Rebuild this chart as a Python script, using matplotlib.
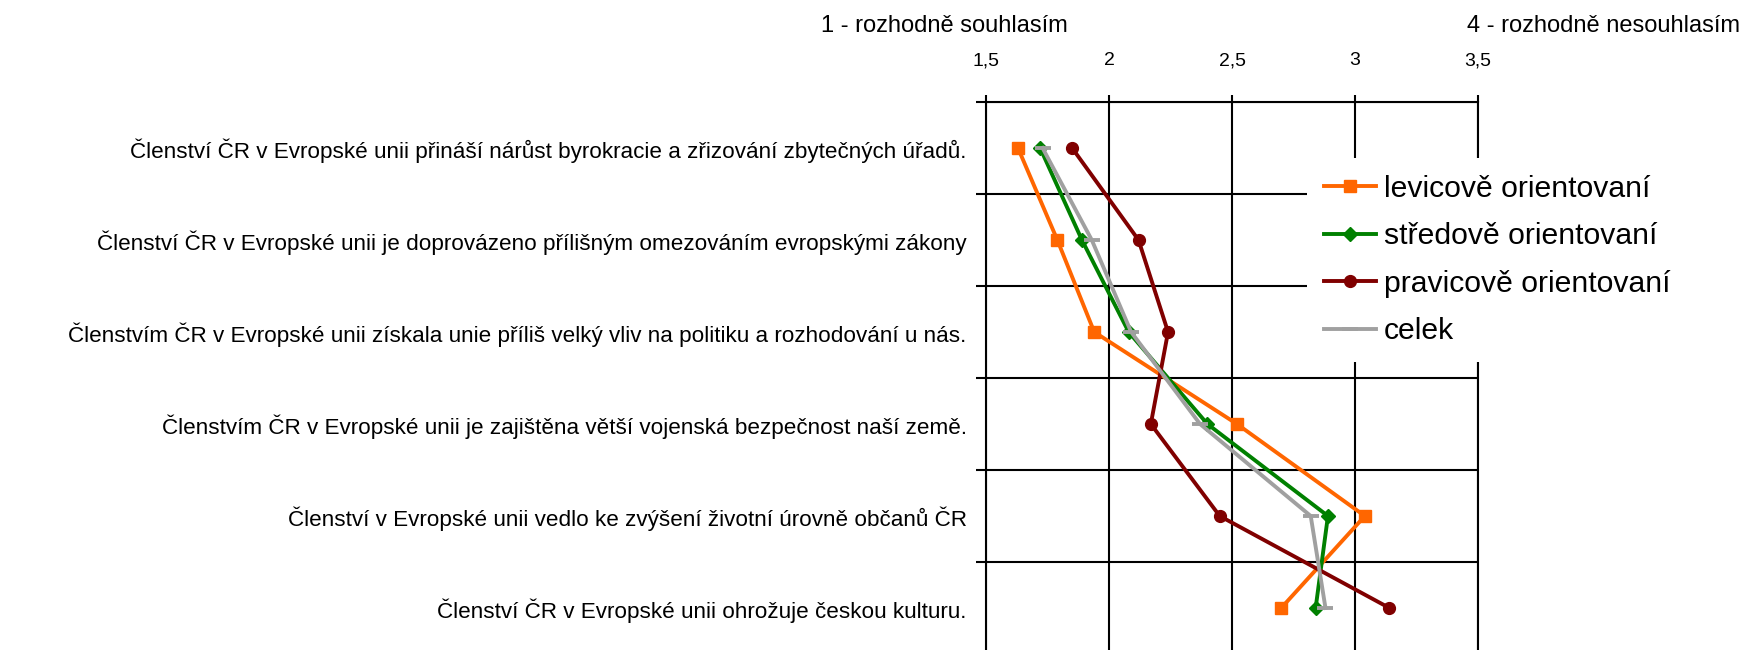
#Imports

import numpy as np
from matplotlib import pyplot as plt

plt.rcParams['font.family'] = ['Liberation Sans', 'DejaVu Sans']

# Data (mean agreement, 1 = strongly agree, 4 = strongly disagree)

statements = [
    'Členství ČR v Evropské unii přináší nárůst byrokracie a zřizování zbytečných úřadů.',
    'Členství ČR v Evropské unii je doprovázeno přílišným omezováním evropskými zákony',
    'Členstvím ČR v Evropské unii získala unie příliš velký vliv na politiku a rozhodování u nás.',
    'Členstvím ČR v Evropské unii je zajištěna větší vojenská bezpečnost naší země.',
    'Členství v Evropské unii vedlo ke zvýšení životní úrovně občanů ČR',
    'Členství ČR v Evropské unii ohrožuje českou kulturu.',
]

levicove = [1.63, 1.79, 1.94, 2.52, 3.04, 2.70]
stredove = [1.72, 1.89, 2.08, 2.40, 2.89, 2.84]
pravicove = [1.85, 2.12, 2.24, 2.17, 2.45, 3.14]
celek = [1.73, 1.93, 2.09, 2.37, 2.82, 2.88]

series_names = ['levicově orientovaní', 'středově orientovaní', 'pravicově orientovaní', 'celek']

x_ticks = [1.5, 2, 2.5, 3, 3.5]
x_tick_labels = ['1,5', '2', '2,5', '3', '3,5']


def agreement_chart():
    W, H = 1745, 650
    fig = plt.figure(figsize=(W / 100, H / 100), dpi=100)
    ax = fig.add_axes([986 / W, 1 - 654 / H, (1478 - 986) / W, (654 - 102) / H])

    y = np.arange(len(statements))

    ax.plot(levicove, y, color='#FF6600', lw=2.8, marker='s', ms=8.5, label=series_names[0], zorder=3)
    ax.plot(stredove, y, color='#008000', lw=2.8, marker='D', ms=7, label=series_names[1], zorder=3)
    ax.plot(pravicove, y, color='#800000', lw=2.8, marker='o', ms=8.5, label=series_names[2], zorder=3)
    ax.plot(celek, y, color='#A0A0A0', lw=2.8, marker='_', ms=11, mew=2.8, label=series_names[3], zorder=3)

    ax.set_xlim(1.5, 3.5)
    ax.set_ylim(len(statements) - 0.5, -0.5)

    # x axis on top
    ax.xaxis.tick_top()
    ax.set_xticks(x_ticks)
    ax.set_xticklabels(x_tick_labels)
    ax.tick_params(axis='x', which='major', direction='out', length=5, width=1.5,
                   labelsize=14, pad=18.5, color='black')

    # category boundaries as minor ticks + gridlines
    ax.set_yticks(y)
    ax.set_yticklabels(statements)
    ax.set_yticks(np.arange(len(statements) + 1) - 0.5, minor=True)
    ax.tick_params(axis='y', which='major', length=0, labelsize=16.2, pad=14)
    ax.tick_params(axis='y', which='minor', direction='out', length=7, width=1.5, color='black')

    ax.grid(True, axis='x', which='major', color='black', lw=1.5, zorder=1)
    ax.grid(True, axis='y', which='minor', color='black', lw=1.5, zorder=1)
    ax.set_axisbelow(True)

    for s in ['left', 'top', 'right']:
        ax.spines[s].set_linewidth(1.5)
        ax.spines[s].set_color('black')
    ax.spines['bottom'].set_visible(False)

    fig.text(821 / W, 1 - 32 / H, '1 - rozhodně souhlasím', fontsize=17, ha='left', va='baseline')
    fig.text(1740 / W, 1 - 32 / H, '4 - rozhodně nesouhlasím', fontsize=17, ha='right', va='baseline')

    leg = ax.legend(loc='upper left', bbox_to_anchor=(1307 / W, 1 - 158 / H),
                    bbox_transform=fig.transFigure, borderaxespad=0, frameon=True,
                    fancybox=False, framealpha=1, facecolor='white', edgecolor='none',
                    fontsize=21.7, handlelength=1.75, handletextpad=0.25, labelspacing=0.65,
                    borderpad=0.55)
    leg.set_zorder(5)

    plt.savefig('out.png', dpi=100)


agreement_chart()
